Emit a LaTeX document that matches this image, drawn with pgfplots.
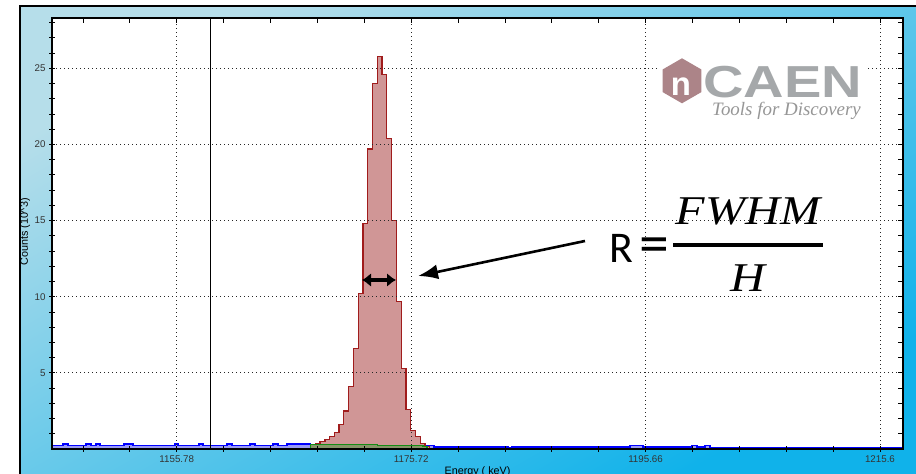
\documentclass[border=0pt]{standalone}
\usepackage{fontspec}
\setmainfont{Liberation Sans}
\newfontfamily\carlito{Carlito}
\newfontfamily\lserif{Liberation Serif}
\usepackage{pgfplots}
\pgfplotsset{compat=1.18}
\usetikzlibrary{arrows.meta,shapes.geometric}
\definecolor{bgtop}{RGB}{182,222,234}
\definecolor{bgbot}{RGB}{16,178,234}
\definecolor{redfill}{RGB}{208,150,150}
\definecolor{redline}{RGB}{160,28,28}
\definecolor{blueline}{RGB}{0,0,255}
\definecolor{bluefill}{RGB}{155,155,245}
\definecolor{greenline}{RGB}{20,140,20}
\definecolor{greenfill}{RGB}{135,150,105}
\definecolor{hexcol}{RGB}{172,132,136}
\definecolor{caengray}{RGB}{165,168,170}
\definecolor{toolgray}{RGB}{150,150,150}
\pgfplotsset{
  myframe/.style={
    at={(52bp,25bp)}, anchor=south west,
    scale only axis, width=851bp, height=431bp,
    xmin=1145.17, xmax=1217.56, ymin=0, ymax=28.3,
    axis line style={line width=1.2bp},
    major tick length=6bp, minor tick length=6bp,
    every tick/.style={black,line width=0.8bp},
    xtick={1155.78,1175.72,1195.66,1215.6},
    minor xtick={1147.804,1151.792,1159.768,1163.756,1167.744,1171.732,1179.708,1183.696,1187.684,1191.672,1199.648,1203.636,1207.624,1211.612},
    ytick={5,10,15,20,25},
    minor ytick={1,2,3,4,6,7,8,9,11,12,13,14,16,17,18,19,21,22,23,24,26,27,28},
  }
}
\begin{document}
\begin{tikzpicture}[x=1bp,y=1bp]
\useasboundingbox (0,0) rectangle (916,474);
\fill[white] (0,0) rectangle (916,474);
\shade[top color=bgtop,bottom color=bgbot,shading angle=30] (20,0) rectangle (916,468);
\draw[line width=1.5bp] (20,0) -- (20,468) -- (916,468);
\begin{axis}[
  myframe,
  axis background/.style={fill=white},
  axis on top,
  tick pos=left, tick align=center,
  xticklabels={1155.78,1175.72,1195.66,1215.6},
  yticklabels={5,10,15,20,25},
  grid=major,
  major grid style={black!85,line width=0.7bp,dash pattern=on 0.8bp off 3.2bp},
  ticklabel style={font=\fontsize{9.8}{10}\selectfont, text=black!80},
]
\addplot[const plot, draw=blueline, fill=bluefill, line width=1.3bp] coordinates {
(1145.17,0.25) (1146.11,0.32) (1146.53,0.25) (1148.07,0.32) (1148.49,0.25)
(1148.92,0.32) (1149.26,0.25) (1151.30,0.32) (1152.06,0.25) (1155.64,0.32)
(1155.89,0.25) (1157.68,0.32) (1158.02,0.25) (1160.06,0.32) (1160.48,0.25)
(1162.02,0.32) (1162.44,0.25) (1163.97,0.32) (1164.40,0.25) (1165.16,0.32)
(1167.12,0.30) (1176.89,0.25) (1177.67,0.14) (1183.96,0.08) (1184.30,0.14)
(1194.33,0.22) (1195.43,0.14) (1199.60,0.22) (1200.03,0.14) (1200.71,0.22)
(1201.14,0.12) (1217.56,0.12)
} \closedcycle;
\addplot[const plot, draw=redline, fill=redfill, line width=1.3bp] coordinates {
(1167.16,0.30) (1167.56,0.38) (1167.97,0.47) (1168.38,0.64) (1168.78,0.84)
(1169.19,1.10) (1169.59,1.60) (1169.99,2.50) (1170.40,4.10) (1170.81,6.60)
(1171.22,10.20) (1171.62,14.80) (1172.03,19.70) (1172.43,24.00) (1172.83,25.75)
(1173.24,24.60) (1173.65,20.40) (1174.05,15.00) (1174.46,9.70) (1174.87,5.30)
(1175.28,2.60) (1175.68,1.20) (1176.08,0.80) (1176.49,0.35) (1176.89,0.15)
(1177.30,0.15)
} \closedcycle;
\addplot[const plot, draw=greenline, fill=greenfill, line width=1.2bp] coordinates {
(1167.16,0.30) (1172.83,0.25) (1176.73,0.15) (1177.07,0.15)
} \closedcycle;
\addplot[black, line width=0.8bp] coordinates {(1158.61,0) (1158.61,28.3)};
\end{axis}
\begin{axis}[
  myframe,
  tick pos=right, tick align=inside,
  xticklabels={}, yticklabels={},
  major tick length=5bp, minor tick length=5bp,
]
\end{axis}
% axis titles
\node[rotate=90, font=\fontsize{10.8}{11}\selectfont] at (25,242) {Counts (10\^{}3)};
\node[anchor=base, font=\fontsize{10.8}{11}\selectfont] at (477.5,-1) {Energy ( keV)};
% logo
\fill[white] (660,352) rectangle (866,418);
\node[regular polygon, regular polygon sides=6, shape border rotate=30, fill=hexcol, minimum size=45bp, inner sep=0pt] at (682,393.2) {};
\node[text=white, font=\bfseries\fontsize{33}{33}\selectfont, inner sep=0pt] at (681,387.5) {n};
\node[anchor=base west, text=caengray, font=\bfseries\fontsize{45}{45}\selectfont, inner sep=0pt, text depth=0pt] at (703,376) {\scalebox{1.25}[1]{CAEN}};
\node[anchor=base west, text=toolgray, font=\lserif\itshape\fontsize{19}{19}\selectfont, inner sep=0pt] at (712,358) {Tools for Discovery};
% formula
\node[anchor=base west, font=\carlito\fontsize{44}{44}\selectfont, inner sep=0pt] at (609,211) {R};
\node[anchor=base west, font=\carlito\fontsize{60}{60}\selectfont, inner sep=0pt] at (639,210) {=};
\draw[line width=3.5bp] (673,229) -- (823,229);
\node[anchor=base, font=\lserif\itshape\fontsize{41}{41}\selectfont, inner sep=0pt] at (748,249) {\scalebox{1.18}[1]{FWHM}};
\node[anchor=base, font=\lserif\itshape\fontsize{41}{41}\selectfont, inner sep=0pt] at (748,182) {\scalebox{1.18}[1]{H}};
% arrows
\draw[line width=2.6bp, -{Latex[length=20bp,width=15bp]}] (585,233) -- (418,198);
\draw[line width=4bp, {Latex[length=9bp,width=14bp]}-{Latex[length=9bp,width=14bp]}] (362,194) -- (396,194);
\end{tikzpicture}
\end{document}
